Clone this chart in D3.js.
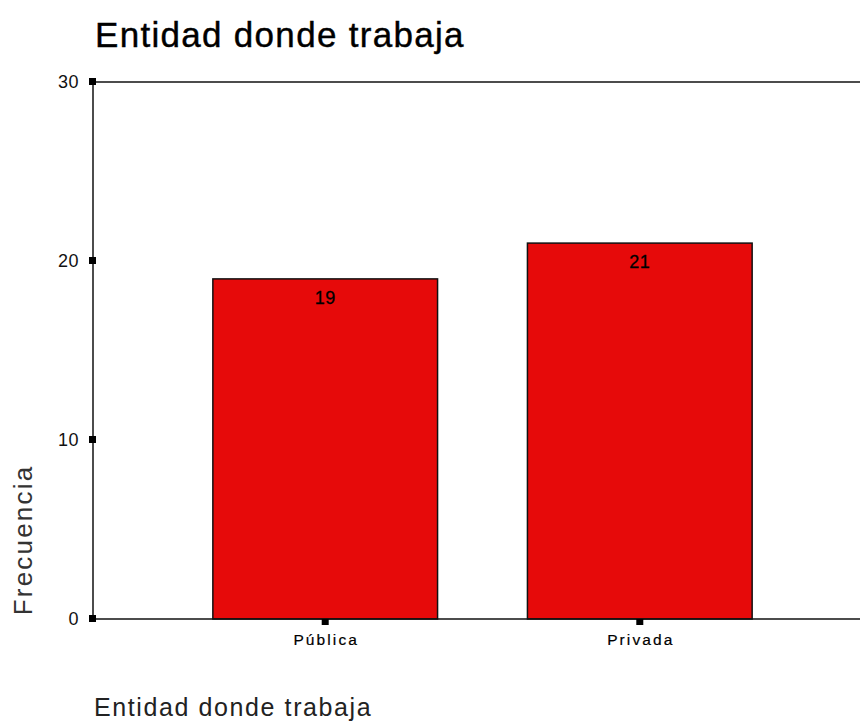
<!DOCTYPE html>
<html><head><meta charset="utf-8">
<script src="https://cdn.jsdelivr.net/npm/d3@7"></script>
<style>body{margin:0;background:#fff;} svg{display:block;}</style>
</head><body>
<svg id="c" width="860" height="722"></svg>
<script>
const categories = ["Pública", "Privada"];
const values = [19, 21];
const yTicks = [0, 10, 20, 30];
const title = "Entidad donde trabaja";
const xTitle = "Entidad donde trabaja";
const yTitle = "Frecuencia";

(function () {
const svg = d3.select("#c");
const pl = 93, pr = 872, pt = 82, pb = 619;
const x = d3.scaleBand().domain(categories).range([pl, pr]).paddingInner(0.2857).paddingOuter(0.381);
const y = d3.scaleLinear().domain([0, 30]).range([pb, pt]);
const font = "Arial, 'Liberation Sans', sans-serif";

svg.append("text").attr("x", 95).attr("y", 47).attr("font-family", font).attr("font-size", 35)
  .attr("letter-spacing", "1.3px").attr("fill", "#000").attr("stroke", "#000").attr("stroke-width", 0.4).text(title);

svg.append("line").attr("x1", pl).attr("x2", pl).attr("y1", pt).attr("y2", pb).attr("stroke", "#111").attr("stroke-width", 1.5);
svg.append("line").attr("x1", pl).attr("x2", 860).attr("y1", pt).attr("y2", pt).attr("stroke", "#111").attr("stroke-width", 1.5);

const g = svg.append("g");
g.selectAll("rect").data(values).join("rect")
  .attr("x", (d, i) => x(categories[i])).attr("width", x.bandwidth())
  .attr("y", d => y(d)).attr("height", d => y(0) - y(d))
  .attr("fill", "#E60A0A").attr("stroke", "#111").attr("stroke-width", 1.5);

g.selectAll("text.v").data(values).join("text").attr("class", "v")
  .attr("x", (d, i) => x(categories[i]) + x.bandwidth() / 2).attr("y", d => y(d) + 25)
  .attr("text-anchor", "middle").attr("font-family", font).attr("font-size", 18).attr("letter-spacing", "0.5px")
  .attr("fill", "#000").attr("stroke", "#000").attr("stroke-width", 0.3).text(d => d);

svg.append("line").attr("x1", pl).attr("x2", 860).attr("y1", pb).attr("y2", pb).attr("stroke", "#111").attr("stroke-width", 1.5);

const yt = svg.append("g");
yTicks.forEach(t => {
  yt.append("rect").attr("x", pl - 4).attr("y", y(t) - 4).attr("width", 7).attr("height", 7).attr("fill", "#000");
  yt.append("text").attr("x", 79).attr("y", y(t) + 6).attr("text-anchor", "end").attr("font-family", font)
    .attr("font-size", 18).attr("letter-spacing", "0.5px").attr("fill", "#111").text(t);
});

categories.forEach(c => {
  const cx = x(c) + x.bandwidth() / 2;
  svg.append("rect").attr("x", cx - 3.5).attr("y", pb).attr("width", 7).attr("height", 6).attr("fill", "#000");
  svg.append("text").attr("x", cx + 1).attr("y", 645).attr("text-anchor", "middle").attr("font-family", font)
    .attr("font-size", 15.5).attr("letter-spacing", "2.1px").attr("fill", "#000").attr("stroke", "#000").attr("stroke-width", 0.2).text(c);
});

svg.append("text").attr("x", 94).attr("y", 716).attr("font-family", font).attr("font-size", 25)
  .attr("letter-spacing", "1.6px").attr("fill", "#222").text(xTitle);
svg.append("text").attr("transform", "translate(32,540) rotate(-90)").attr("text-anchor", "middle")
  .attr("font-family", font).attr("font-size", 26).attr("letter-spacing", "2.2px").attr("fill", "#333").text(yTitle);
})();
</script>
</body></html>
